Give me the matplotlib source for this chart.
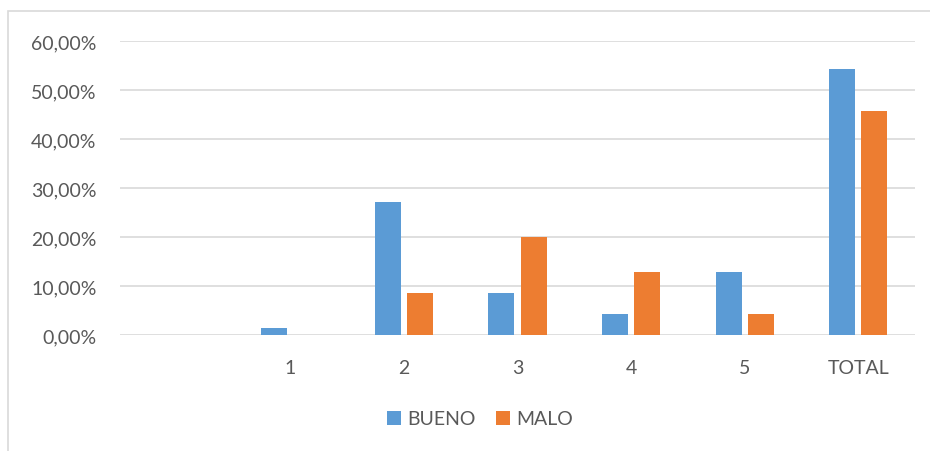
import numpy as np
import matplotlib.pyplot as plt
from matplotlib.patches import Rectangle
from matplotlib.ticker import FuncFormatter

categories = ["", "1", "2", "3", "4", "5", "TOTAL"]
bueno = [0.0, 1.43, 27.14, 8.57, 4.29, 12.86, 54.29]
malo = [0.0, 0.0, 8.57, 20.00, 12.86, 4.29, 45.71]

plt.rcParams['font.family'] = ['Lato', 'DejaVu Sans']
text_col = '#595959'
grid_col = '#D9D9D9'
fs = 14

fig = plt.figure(figsize=(9.3, 4.52), dpi=100)
# outer chart border, Excel style
fig.patches.append(Rectangle((8 / 930, -0.05), 1.0, 1 - 12 / 452 + 0.05,
                             transform=fig.transFigure, fill=False,
                             edgecolor=grid_col, linewidth=1.2))

ax = fig.add_axes([120 / 930, (452 - 336) / 452, 795 / 930, 294 / 452])
x = np.arange(len(categories))
w = 0.229
off = 0.141
ax.bar(x - off, np.array(bueno) / 100, w, color='#5B9BD5', label='BUENO', zorder=3)
ax.bar(x + off, np.array(malo) / 100, w, color='#ED7D31', label='MALO', zorder=3)

ax.set_xlim(-0.5, len(categories) - 0.5)
ax.set_ylim(0, 0.6)
ax.set_yticks(np.arange(0, 0.61, 0.1))
ax.yaxis.set_major_formatter(FuncFormatter(lambda v, p: f"{v * 100:.2f}%".replace('.', ',')))
ax.set_xticks(x)
ax.set_xticklabels(categories)
ax.tick_params(axis='both', length=0, labelsize=fs, colors=text_col)
ax.tick_params(axis='y', pad=17)
ax.tick_params(axis='x', pad=17)
ax.grid(axis='y', color=grid_col, linewidth=1.2, zorder=0)
for s in ax.spines.values():
    s.set_visible(False)

ax.legend(loc='center', bbox_to_anchor=(480 / 930, 1 - 420 / 452), bbox_transform=fig.transFigure,
          ncol=2, frameon=False, fontsize=fs, labelcolor=text_col,
          handlelength=0.72, handleheight=0.72, handletextpad=0.36, columnspacing=1.0)

fig.savefig('out.png', dpi=100)
